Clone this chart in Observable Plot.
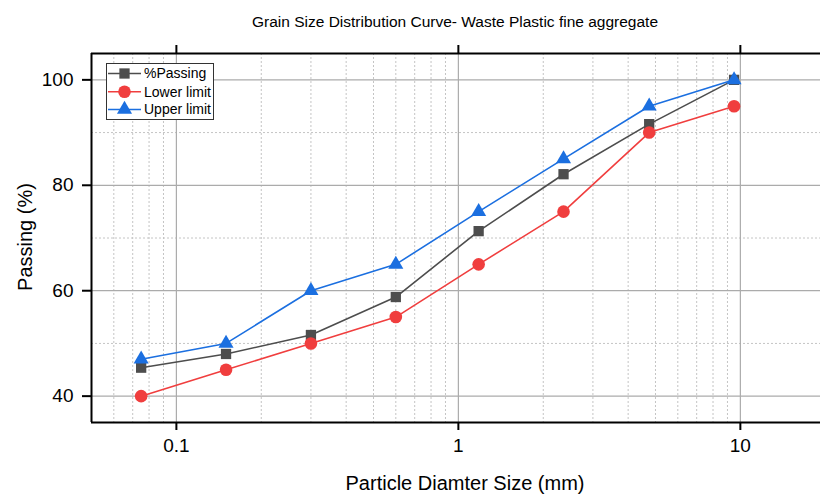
<!DOCTYPE html>
<html>
<head>
<meta charset="utf-8">
<script src="https://cdn.jsdelivr.net/npm/d3@7"></script>
<script src="https://cdn.jsdelivr.net/npm/@observablehq/plot@0.6"></script>
<style>
  html, body { margin: 0; padding: 0; background: #fff; }
  #chart { width: 821px; height: 495px; }
</style>
</head>
<body>
<div id="chart"></div>
<script>
// ---- data ----
const sieveSizes = [0.075, 0.15, 0.3, 0.6, 1.18, 2.36, 4.75, 9.5];
const passing    = [45.4, 48.0, 51.6, 58.8, 71.3, 82.1, 91.6, 100];
const lowerLimit = [40, 45, 50, 55, 65, 75, 90, 95];
const upperLimit = [47, 50, 60, 65, 75, 85, 95, 100];
const seriesNames = ["%Passing", "Lower limit", "Upper limit"];

const xMajorTicks = [0.1, 1, 10];
const xMinorTicks = [0.06, 0.07, 0.08, 0.09, 0.2, 0.3, 0.4, 0.5, 0.6, 0.7, 0.8, 0.9, 2, 3, 4, 5, 6, 7, 8, 9];
const yMajorTicks = [40, 60, 80, 100];
const yMinorTicks = [50, 70, 90];

const titleText = "Grain Size Distribution Curve- Waste Plastic fine aggregate";
const xLabel = "Particle Diamter Size (mm)";
const yLabel = "Passing (%)";

// ---- build table ----
const colors = {"%Passing": "#4d4d4d", "Lower limit": "#f03e3e", "Upper limit": "#1b6fe0"};
const symbols = {"%Passing": "square", "Lower limit": "circle", "Upper limit": "triangle"};
const radii = {"%Passing": 5.8, "Lower limit": 6.3, "Upper limit": 5.6};
const valuesBySeries = {"%Passing": passing, "Lower limit": lowerLimit, "Upper limit": upperLimit};
const rows = seriesNames.flatMap(s => sieveSizes.map((x, i) => ({series: s, x, y: valuesBySeries[s][i]})));

const W = 821, H = 495;
const font = "'Liberation Sans', Arial, sans-serif";

const marks = [
  Plot.ruleX(xMinorTicks, {stroke: "#c4c4c4", strokeWidth: 1, strokeDasharray: "2,2"}),
  Plot.ruleY(yMinorTicks, {stroke: "#c4c4c4", strokeWidth: 1, strokeDasharray: "2,2"}),
  Plot.ruleX(xMajorTicks, {stroke: "#ababab", strokeWidth: 1.2}),
  Plot.ruleY(yMajorTicks, {stroke: "#ababab", strokeWidth: 1.2}),
  Plot.axisX({anchor: "bottom", ticks: xMajorTicks, tickFormat: d => String(d), tickSize: 8, tickPadding: 8, strokeWidth: 2, stroke: "#000", label: null, fill: "#000", fontSize: 19}),
  Plot.axisX({anchor: "top", ticks: xMajorTicks, tickFormat: () => "", tickSize: 9, strokeWidth: 2, stroke: "#000", label: null}),
  Plot.axisY({anchor: "left", ticks: yMajorTicks, tickSize: 9, tickPadding: 9, strokeWidth: 2, stroke: "#000", label: null, fill: "#000", fontSize: 19}),
  Plot.ruleY([35, 105], {stroke: "#000", strokeWidth: 2}),
  Plot.ruleX([0.05], {stroke: "#000", strokeWidth: 2})
];
for (const s of seriesNames) {
  const d = rows.filter(r => r.series === s);
  marks.push(Plot.line(d, {x: "x", y: "y", stroke: colors[s], strokeWidth: 1.6}));
  marks.push(Plot.dot(d, {x: "x", y: "y", symbol: symbols[s], fill: colors[s], r: radii[s], stroke: "none"}));
}

const chart = Plot.plot({
  width: W,
  height: H,
  marginLeft: 91,
  marginRight: 1,
  marginTop: 53,
  marginBottom: 73,
  style: {fontFamily: font, fontSize: "19px", background: "#fff", color: "#000"},
  x: {type: "log", domain: [0.05, 19.24]},
  y: {domain: [35, 105]},
  marks
});
document.getElementById("chart").appendChild(chart);

const svg = d3.select(chart);
svg.selectAll('g[aria-label$="tick label"]').attr("font-size", 19);
svg.selectAll('g[aria-label$="tick label"] text').style("font-size", "19px").style("font-family", font);

// ---- title, axis labels, legend (text) ----
svg.append("text").attr("x", 455).attr("y", 27).attr("text-anchor", "middle")
  .style("font-family", font).style("font-size", "15.5px").attr("fill", "#000").text(titleText);
svg.append("text").attr("x", 465).attr("y", 490).attr("text-anchor", "middle")
  .style("font-family", font).style("font-size", "20px").attr("fill", "#000").text(xLabel);
svg.append("text").attr("transform", "translate(32,237) rotate(-90)").attr("text-anchor", "middle")
  .style("font-family", font).style("font-size", "20px").attr("fill", "#000").text(yLabel);

const lg = svg.append("g");
lg.append("rect").attr("x", 106.5).attr("y", 63.5).attr("width", 107).attr("height", 56)
  .attr("fill", "#fff").attr("stroke", "#333").attr("stroke-width", 1);
const legendY = [73.5, 91.8, 109.5];
const symMap = {square: d3.symbolSquare, circle: d3.symbolCircle, triangle: d3.symbolTriangle};
seriesNames.forEach((s, i) => {
  const y = legendY[i];
  lg.append("line").attr("x1", 108).attr("x2", 141).attr("y1", y).attr("y2", y)
    .attr("stroke", colors[s]).attr("stroke-width", 1.6);
  lg.append("path").attr("transform", `translate(124.5,${y})`)
    .attr("d", d3.symbol(symMap[symbols[s]], Math.PI * radii[s] * radii[s])())
    .attr("fill", colors[s]);
  lg.append("text").attr("x", 144).attr("y", y).attr("dy", "0.35em").attr("text-anchor", "start")
    .style("font-family", font).style("font-size", "14px").attr("fill", "#000").text(s);
});
</script>
</body>
</html>
